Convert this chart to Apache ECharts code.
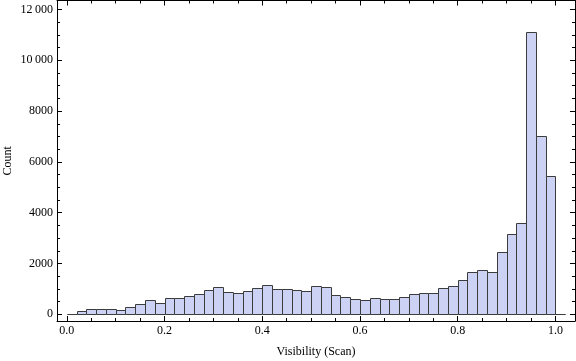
<!DOCTYPE html>
<html>
<head>
<meta charset="utf-8">
<script src="https://cdn.jsdelivr.net/npm/echarts@6/dist/echarts.min.js"></script>
<style>html,body{margin:0;padding:0;background:#fff}#c{width:576px;height:361px}</style>
</head>
<body>
<div id="c"></div>
<script>
// Histogram bins (width 0.02) starting at 0.00
const binStart = 0.0;
const binWidth = 0.02;
const counts = [
  0, 120, 197, 197, 197, 157, 276, 394, 551, 433,
  630, 630, 709, 788, 945, 1063, 866, 827, 906, 1024,
  1142, 984, 984, 945, 906, 1102, 1063, 748, 669, 591,
  551, 630, 591, 591, 669, 788, 827, 827, 1024, 1102,
  1339, 1654, 1733, 1654, 2442, 3151, 3584, 11108, 7011, 5436,
  0
];
const xMajorTicks = [0, 0.2, 0.4, 0.6, 0.8, 1.0];
const xMinorTicks = [0.05, 0.1, 0.15, 0.25, 0.3, 0.35, 0.45, 0.5, 0.55, 0.65, 0.7, 0.75, 0.85, 0.9, 0.95];
const yMajorTicks = [0, 2000, 4000, 6000, 8000, 10000, 12000];
const yMinorTicks = [500, 1000, 1500, 2500, 3000, 3500, 4500, 5000, 5500, 6500, 7000, 7500, 8500, 9000, 9500, 10500, 11000, 11500];

const data = counts.map((c, i) => {
  const x0 = +(binStart + i * binWidth).toFixed(4);
  return [x0, +(x0 + binWidth).toFixed(4), c];
});

const FONT = "'Liberation Serif', 'DejaVu Serif', serif";
const XMIN = -0.02, XMAX = 1.04, YMIN = -265, YMAX = 12355;

function fmtY(v) {
  const s = String(Math.round(v));
  if (s.length >= 5) return s.slice(0, s.length - 3) + '\u2009' + s.slice(-3);
  return s;
}

function xAx(pos, ticks, len, labels, showLine) {
  return {
    type: 'value', position: pos, min: XMIN, max: XMAX,
    splitLine: { show: false },
    axisLine: { show: showLine, onZero: false, lineStyle: { color: '#000', width: 1 } },
    axisTick: { show: true, inside: true, length: len, customValues: ticks, lineStyle: { color: '#000', width: 1 } },
    axisLabel: labels ? { show: true, customValues: ticks, formatter: v => v.toFixed(1), color: '#000', fontFamily: FONT, fontSize: 12, margin: 4 } : { show: false },
    name: labels ? 'Visibility (Scan)' : '',
    nameLocation: 'middle', nameGap: 25, nameMoveOverlap: false,
    nameTextStyle: { color: '#000', fontFamily: FONT, fontSize: 12 }
  };
}
function yAx(pos, ticks, len, labels, showLine) {
  return {
    type: 'value', position: pos, min: YMIN, max: YMAX,
    splitLine: { show: false },
    axisLine: { show: showLine, onZero: false, lineStyle: { color: '#000', width: 1 } },
    axisTick: { show: true, inside: true, length: len, customValues: ticks, lineStyle: { color: '#000', width: 1 } },
    axisLabel: labels ? { show: true, customValues: ticks, formatter: fmtY, color: '#000', fontFamily: FONT, fontSize: 12, margin: 4 } : { show: false },
    name: labels ? 'Count' : '',
    nameLocation: 'middle', nameGap: 43, nameRotate: 90, nameMoveOverlap: false,
    nameTextStyle: { color: '#000', fontFamily: FONT, fontSize: 12 }
  };
}

const chart = echarts.init(document.getElementById('c'), null, { renderer: 'canvas' });
chart.setOption({
  animation: false,
  backgroundColor: '#fff',
  grid: { left: 57, right: 1, top: 0.5, bottom: 40, containLabel: false, outerBoundsMode: 'none' },
  xAxis: [
    xAx('bottom', xMajorTicks, 5, true, true),
    xAx('bottom', xMinorTicks, 3, false, false),
    xAx('top', xMajorTicks, 5, false, true),
    xAx('top', xMinorTicks, 3, false, false)
  ],
  yAxis: [
    yAx('left', yMajorTicks, 5, true, true),
    yAx('left', yMinorTicks, 3, false, false),
    yAx('right', yMajorTicks, 5, false, true),
    yAx('right', yMinorTicks, 3, false, false)
  ],
  series: [{
    type: 'custom',
    xAxisIndex: 0, yAxisIndex: 0,
    data: data,
    encode: { x: [0, 1], y: 2 },
    clip: true,
    renderItem: function (params, api) {
      const p0 = api.coord([api.value(0), 0]);
      const p1 = api.coord([api.value(1), api.value(2)]);
      const x0 = Math.round(p0[0]) + 0.5, x1 = Math.round(p1[0]) + 0.5;
      const yb = Math.round(p0[1]) + 0.5, yt = Math.round(p1[1]) + 0.5;
      return {
        type: 'rect',
        shape: { x: x0, y: yt, width: x1 - x0, height: yb - yt },
        style: { fill: 'rgb(204,210,244)', stroke: '#3c3c3c', lineWidth: 1 }
      };
    }
  }]
});
</script>
</body>
</html>
